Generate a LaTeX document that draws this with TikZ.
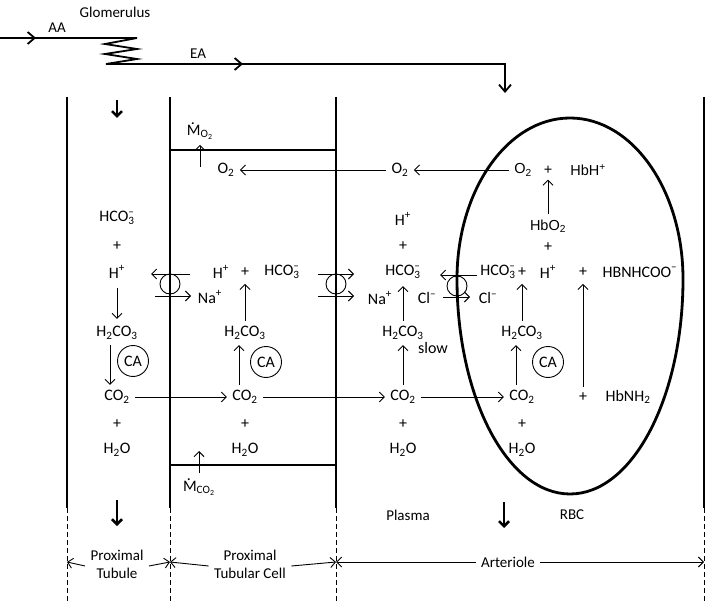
\documentclass[tikz,border=0pt]{standalone}
\usepackage{fontspec}
\setmainfont{Carlito}
\newfontfamily\arialfont{Liberation Sans}
\usetikzlibrary{arrows.meta}
\usetikzlibrary{positioning}
\tikzstyle{heavyLine}=[line width=2.5pt]
\tikzstyle{normalLine}=[line width=1.8pt]
\tikzstyle{tinyLine}=[line width=.9pt]
\tikzstyle{Wall}=[heavyLine]
\tikzstyle{Guide}=[tinyLine,dash pattern=on 5pt off 3pt]
\tikzstyle{Vessel}=[normalLine,line join=miter]
\tikzstyle{VesselArrow}=[normalLine,-{Straight Barb[length=7pt,width=12pt]}]
\tikzstyle{Arrow}=[tinyLine,-{Straight Barb[length=5pt,width=10pt]}]
\tikzstyle{Flow}=[heavyLine,-{Straight Barb[length=5pt,width=10pt]}]
\tikzstyle{Enzyme}=[draw,tinyLine,circle,minimum size=31pt,inner sep=0pt]
\tikzstyle{Label}=[font=\fontsize{15}{18}\selectfont,align=center]

\newcommand{\bicarb}{HCO\rlap{\textsuperscript{--}}\textsubscript{3}}
\newcommand{\cation}{\textsuperscript{+}}
\newcommand{\anion}{\textsuperscript{--}}
\newcommand{\cotwo}{CO\textsubscript{2}}
\newcommand{\otwo}{O\textsubscript{2}}
\newcommand{\water}{H\textsubscript{2}O}
\newcommand{\carbacid}{H\textsubscript{2}CO\textsubscript{3}}
\newcommand{\mdot}{\makebox[0pt][l]{\hspace{0.24em}\raisebox{0.66em}{.}}M}

\begin{document}
\begin{tikzpicture}[x=1pt,y=-1pt]

  \useasboundingbox (0,0) rectangle (706,601);
  \fontsize{16}{19}\selectfont

  % Glomerulus
  % ----------
  \node[Label] (glom) at (115,12) {Glomerulus};
  \node[Label] (aa) at (57,28) {AA};
  \node[Label] (ea) at (198,54) {EA};
  \draw[VesselArrow] (0,38) -- (36,38);
  \draw[Vessel] (30,38) -- (137,38) -- (105,44) -- (137,49) -- (105,54) -- (137,59) -- (106,64) -- (505,64) -- (505,80);
  \draw[VesselArrow] (200,64) -- (243,64);
  \draw[VesselArrow] (505,70) -- (505,93);

  % Walls
  \draw[Wall] (67,97) -- (67,508);
  \draw[Wall] (170,97) -- (170,508);
  \draw[Wall] (336,97) -- (336,508);
  \draw[Wall] (704,97) -- (704,508);
  \draw[Wall] (170,150) -- (336,150);
  \draw[Wall] (170,465) -- (336,465);
  \draw[Guide] (67,508) -- (67,601);
  \draw[Guide] (170,508) -- (170,601);
  \draw[Guide] (336,508) -- (336,601);
  \draw[Guide] (704,508) -- (704,601);

  % Red blood cell
  \draw[line width=2.8pt] (457,279) arc[start angle=180,end angle=360,x radius=113,y radius=161]
    arc[start angle=0,end angle=180,x radius=113,y radius=215] -- cycle;

  % Flow
  \draw[Flow] (117,100) -- (117,118);
  \draw[Flow] (117,500) -- (117,526);
  \draw[Flow] (504,502) -- (504,528);

  % Proximal tubule
  \node (tHCO) at (117,218) {\bicarb};
  \node (tPlusA) at (117,246) {+};
  \node (tH) at (117,272) {H\cation};
  \node (tAcid) at (117,333) {\carbacid};
  \node[Enzyme] (tCA) at (133,361) {CA};
  \node (tCO) at (117,397) {\cotwo};
  \node (tPlusB) at (117,424) {+};
  \node (tWater) at (117,450) {\water};
  \draw[Arrow,shorten <=4pt,shorten >=2pt] (tH) -- (tAcid);
  \draw[Arrow] ([xshift=-7pt]tAcid.south) -- ([xshift=-7pt]tCO.north);

  % Proximal tubular cell
  \node (mO) at (200,131) {\mdot\textsubscript{O\textsubscript{2}}};
  \coordinate (mOfoot) at (200,167);
  \draw[Arrow] (mOfoot) -- (mO);
  \node (cO) at (226,170) {\otwo};
  \node (cH) at (221,272) {H\cation};
  \node (cPlus) at (245,272) {+};
  \node (cHCO) at (282,272) {\bicarb};
  \node (cAcid) at (245,333) {\carbacid};
  \node[Enzyme] (cCA) at (266,362) {CA};
  \node (cCO) at (245,397) {\cotwo};
  \node (cPlusB) at (245,424) {+};
  \node (cWater) at (245,450) {\water};
  \node (mC) at (199,487) {\mdot\textsubscript{CO\textsubscript{2}}};
  \coordinate (mCtip) at (199,451);
  \draw[Arrow] (mC) -- (mCtip);
  \draw[Arrow,shorten >=2pt] (cAcid) -- (cPlus);
  \draw[Arrow] ([xshift=-6pt]cCO.north) -- ([xshift=-6pt]cAcid.south);
  \node (cNa) at (210,297) {Na\cation};

  % Plasma
  \node (pO) at (400,170) {\otwo};
  \node (pH) at (403,219) {H\cation};
  \node (pPlusA) at (403,246) {+};
  \node (pHCO) at (403,272) {\bicarb};
  \node (pNa) at (380,298) {Na\cation};
  \node (pCl) at (427,298) {Cl\anion};
  \node (pAcid) at (403,333) {\carbacid};
  \node (pSlow) at (433,348) {slow};
  \node (pCO) at (403,397) {\cotwo};
  \node (pPlusB) at (403,424) {+};
  \node (pWater) at (403,450) {\water};
  \node[Label] (plasma) at (408,515) {Plasma};
  \draw[Arrow,shorten >=2pt] (pAcid) -- (pHCO);
  \draw[Arrow] (pCO) -- (pAcid);

  % RBC
  \node[font=\arialfont\fontsize{14.5}{17}\selectfont] (rO) at (523,170) {\otwo};
  \node[font=\arialfont\fontsize{14.5}{17}\selectfont] (rPlusA) at (548,170) {+};
  \node[font=\arialfont\fontsize{14.5}{17}\selectfont] (rHbH) at (588,170) {HbH\cation};
  \node[font=\arialfont\fontsize{14.5}{17}\selectfont] (rHbO) at (548,226) {HbO\textsubscript{2}};
  \node (rPlusB) at (548,247) {+};
  \node (rHCO) at (498,272) {\bicarb};
  \node (rPlusC) at (522,272) {+};
  \node (rH) at (548,272) {H\cation};
  \node (rPlusD) at (583,272) {+};
  \node (rCarb) at (640,272) {HBNHCOO\anion};
  \node (rCl) at (488,298) {Cl\anion};
  \node (rAcid) at (522,333) {\carbacid};
  \node[Enzyme] (rCA) at (548,362) {CA};
  \node (rCO) at (522,397) {\cotwo};
  \node (rPlusE) at (583,397) {+};
  \node (rHbN) at (628,397) {HbNH\textsubscript{2}};
  \node (rPlusF) at (522,424) {+};
  \node (rWater) at (522,450) {\water};
  \node[Label] (rbc) at (572,515) {RBC};
  \draw[Arrow] (rHbO) -- (rPlusA);
  \draw[Arrow,shorten >=2pt] (rAcid) -- (rPlusC);
  \draw[Arrow] ([xshift=-6pt]rCO.north) -- ([xshift=-6pt]rAcid.south);
  \draw[Arrow,shorten >=2pt] (rPlusE) -- (rPlusD);

  % Transport
  \draw[Arrow] (pO) -- (cO);
  \draw[Arrow] (rO) -- (pO);
  \draw[Arrow] (tCO) -- (cCO);
  \draw[Arrow] (cCO) -- (pCO);
  \draw[Arrow] (pCO) -- (rCO);

  % Carriers
  \draw[tinyLine] (170,284) circle (10);
  \draw[Arrow] (190,274) -- (151,274);
  \draw[Arrow] (155,296) -- (191,296);
  \draw[tinyLine] (336,284) circle (10);
  \draw[Arrow] (318,274) -- (354,274);
  \draw[Arrow] (318,296) -- (354,296);
  \draw[tinyLine] (457,286) circle (10);
  \draw[Arrow] (477,275) -- (440,275);
  \draw[Arrow] (443,297) -- (470,297);

  % Dimension
  \coordinate (wallA) at (67,562);
  \coordinate (wallB) at (170,562);
  \coordinate (wallC) at (336,562);
  \coordinate (wallD) at (704,562);
  \node[Label] (tubule) at (117,564) {Proximal\\Tubule};
  \node[Label] (cell) at (250,564) {Proximal\\Tubular Cell};
  \node[Label] (arteriole) at (508,562) {Arteriole};
  \draw[Arrow] ([yshift=-2pt]tubule.west) -- (wallA);
  \draw[Arrow] ([yshift=-2pt]tubule.east) -- (wallB);
  \draw[Arrow] ([yshift=-2pt]cell.west) -- (wallB);
  \draw[Arrow] ([yshift=-2pt]cell.east) -- (wallC);
  \draw[Arrow] (arteriole) -- (wallC);
  \draw[Arrow] (arteriole) -- (wallD);

\end{tikzpicture}
\end{document}
